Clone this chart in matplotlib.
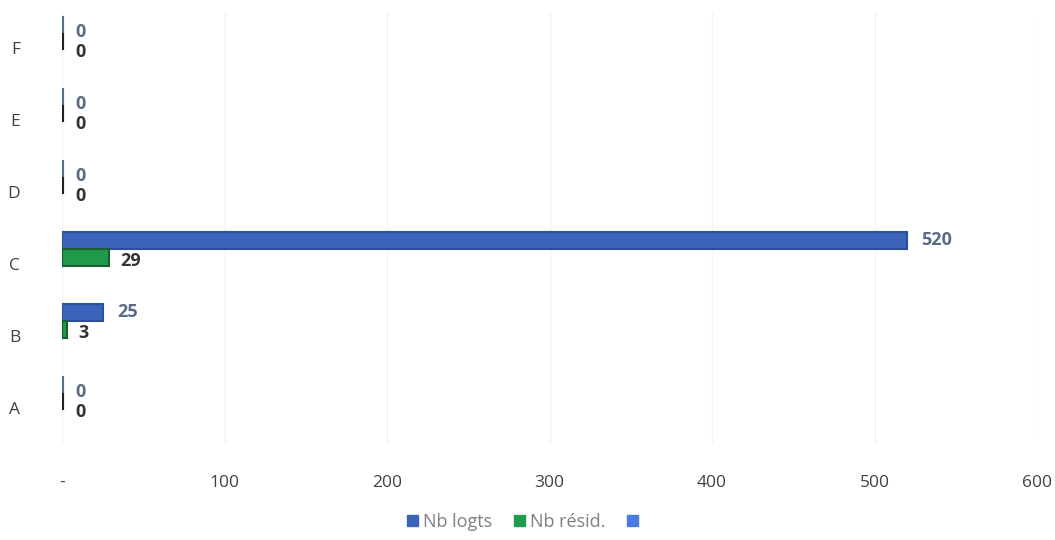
import numpy as np
import matplotlib.pyplot as plt
from matplotlib.ticker import FuncFormatter
from matplotlib.patches import Patch

plt.rcParams['font.family'] = ['Open Sans', 'DejaVu Sans']

cats = ['A', 'B', 'C', 'D', 'E', 'F']
nb_logts = [0, 25, 520, 0, 0, 0]
nb_resid = [0, 3, 29, 0, 0, 0]

blue = '#3b63b9'
green = '#1f9a4a'

fig = plt.figure(figsize=(10.55, 5.4), dpi=100)
ax = fig.add_axes([62/1055, 1 - 444/540, (1037-62)/1055, 432/540])

y = np.arange(len(cats))
h = 0.24
ec1 = ['#2d4f9a' if v else '#5b6f87' for v in nb_logts]
ec2 = ['#1b5e30' if v else '#222222' for v in nb_resid]
lw1 = [1.5 if v else 3 for v in nb_logts]
lw2 = [1.5 if v else 3 for v in nb_resid]
ax.barh(y + 0.33, nb_logts, height=h, color=blue, edgecolor=ec1, linewidth=lw1)
ax.barh(y + 0.09, nb_resid, height=h, color=green, edgecolor=ec2, linewidth=lw2)

# zero labels sit stacked next to the stubs
for i, v in enumerate(nb_logts):
    yy = y[i] + 0.33 if v else y[i] + 0.22
    ax.text(v + 9 if v else 8, yy, str(v), va='center', ha='left', fontsize=13,
            fontweight='bold', color='#5a6b85')
for i, v in enumerate(nb_resid):
    yy = y[i] + 0.04 if v else y[i] - 0.05
    ax.text(v + 7 if v else 8, yy, str(v), va='center', ha='left', fontsize=13,
            fontweight='bold', color='#333333')

ax.set_xlim(0, 600)
ax.set_ylim(-0.5, len(cats) - 0.5)
ax.set_yticks(y)
ax.set_yticklabels(cats)
ax.set_xticks(range(0, 601, 100))
ax.xaxis.set_major_formatter(FuncFormatter(lambda v, p: '-' if v == 0 else f'{int(v)}'))
ax.tick_params(axis='both', length=0, labelsize=12.5, colors='#404040')
ax.tick_params(axis='x', pad=22)
ax.tick_params(axis='y', pad=30)
for s in ax.spines.values():
    s.set_visible(False)
ax.grid(axis='x', color='#f4f4f4', linewidth=1)
ax.set_axisbelow(True)

handles = [Patch(color=blue, label='Nb logts'), Patch(color=green, label='Nb résid.'),
           Patch(color='#4a7be0', label=' ')]
fig.legend(handles=handles, loc='center', bbox_to_anchor=(0.5, 1 - 522/540), ncol=3,
           frameon=False, fontsize=13, handlelength=0.6, handleheight=0.6,
           handletextpad=0.3, columnspacing=1.2, labelcolor='#808080')

fig.savefig('out.png')
